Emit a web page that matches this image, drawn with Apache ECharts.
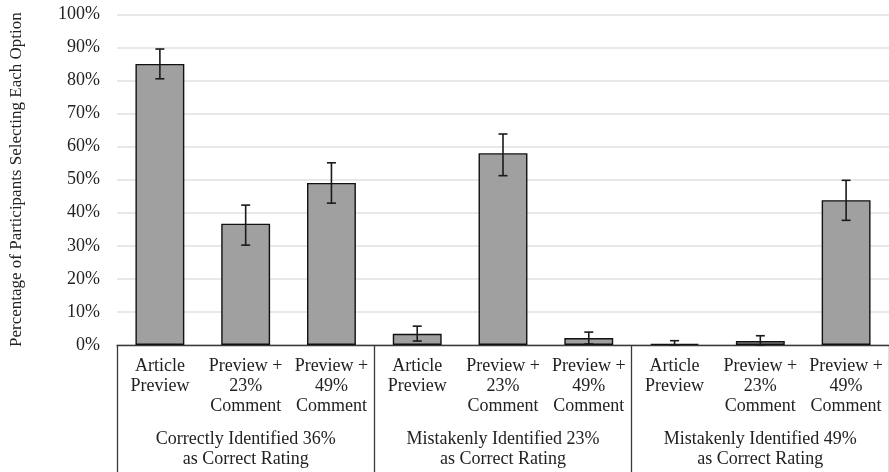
<!DOCTYPE html>
<html>
<head>
<meta charset="utf-8">
<script src="https://cdn.jsdelivr.net/npm/echarts@6/dist/echarts.min.js"></script>
<style>html,body{margin:0;padding:0;background:#fff}#c{width:889px;height:472px}</style>
</head>
<body>
<div id="c"></div>
<script>
var categories = ['Article\nPreview', 'Preview +\n23%\nComment', 'Preview +\n49%\nComment',
                  'Article\nPreview', 'Preview +\n23%\nComment', 'Preview +\n49%\nComment',
                  'Article\nPreview', 'Preview +\n23%\nComment', 'Preview +\n49%\nComment'];
var groups = ['Correctly Identified 36%\nas Correct Rating',
              'Mistakenly Identified 23%\nas Correct Rating',
              'Mistakenly Identified 49%\nas Correct Rating'];
var values  = [85.0, 36.7, 49.0, 3.4, 58.0, 2.1, 0.4, 1.2, 43.8];
var errLow  = [80.5, 30.2, 42.9, 1.2, 51.2, 0.3, 0.0, 0.0, 37.7];
var errHigh = [89.5, 42.3, 55.1, 5.7, 63.8, 3.9, 1.3, 2.8, 49.8];
var yTicks = { min: 0, max: 100, interval: 10 };

var font = '"Liberation Serif", "Times New Roman", serif';
var chart = echarts.init(document.getElementById('c'), null, { renderer: 'canvas' });
var errData = values.map(function (v, i) { return [i, errLow[i], errHigh[i]]; });

chart.setOption({
  animation: false,
  backgroundColor: '#fff',
  grid: { left: 116, right: 0, top: 14.3, bottom: 127, containLabel: false },
  xAxis: [{
    type: 'category', data: categories, position: 'bottom',
    axisLine: { show: true, lineStyle: { color: '#3a3a3a', width: 1.3 } },
    axisTick: { show: false },
    axisLabel: { interval: 0, margin: 11, fontFamily: font, fontSize: 18, color: '#222', lineHeight: 20 }
  }, {
    type: 'category', data: groups, position: 'bottom', gridIndex: 0,
    axisLine: { show: false },
    axisTick: { show: true, length: 130, lineStyle: { color: '#3a3a3a', width: 1.3 } },
    axisLabel: { interval: 0, margin: 84, fontFamily: font, fontSize: 18, color: '#222', lineHeight: 20 }
  }],
  yAxis: {
    type: 'value', min: yTicks.min, max: yTicks.max, interval: yTicks.interval,
    axisLine: { show: false }, axisTick: { show: false },
    axisLabel: { formatter: '{value}%', margin: 17, fontFamily: font, fontSize: 18, color: '#222' },
    splitLine: { lineStyle: { color: '#e0e0e0', width: 1.5 } },
    name: 'Percentage of Participants Selecting Each Option',
    nameLocation: 'middle', nameGap: 92,
    nameTextStyle: { fontFamily: font, fontSize: 17, color: '#222' }
  },
  series: [{
    type: 'bar', data: values, xAxisIndex: 0, barCategoryGap: '43%',
    itemStyle: { color: '#a0a0a0', borderColor: '#111', borderWidth: 1.4 }
  }, {
    type: 'custom', xAxisIndex: 0, data: errData, z: 10,
    renderItem: function (params, api) {
      var x = api.value(0);
      var lo = api.coord([x, api.value(1)]);
      var hi = api.coord([x, api.value(2)]);
      var hw = 4.5;
      var st = { stroke: '#1a1a1a', lineWidth: 1.6 };
      return { type: 'group', children: [
        { type: 'line', shape: { x1: hi[0], y1: hi[1], x2: lo[0], y2: lo[1] }, style: st },
        { type: 'line', shape: { x1: hi[0] - hw, y1: hi[1], x2: hi[0] + hw, y2: hi[1] }, style: st },
        { type: 'line', shape: { x1: lo[0] - hw, y1: lo[1], x2: lo[0] + hw, y2: lo[1] }, style: st }
      ]};
    }
  }]
});
</script>
</body>
</html>
